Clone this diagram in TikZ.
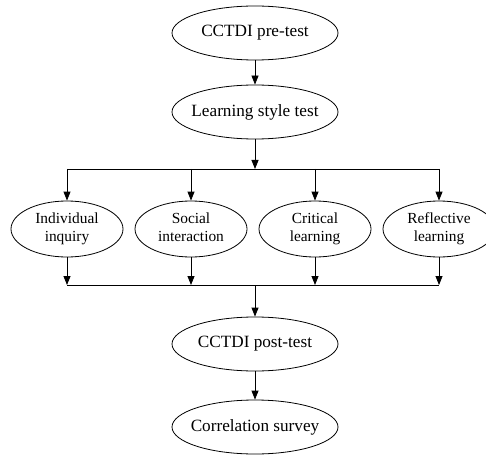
\documentclass[tikz,border=0pt]{standalone}
\usepackage{fontspec}
\setmainfont{Liberation Serif}
\usetikzlibrary{shapes.geometric,arrows.meta}
\begin{document}
\begin{tikzpicture}[x=1pt,y=-1pt,
  line width=0.8pt,
  big/.style={ellipse,draw,inner sep=0pt,minimum width=166pt,minimum height=54pt,font=\fontsize{17.2}{20}\selectfont},
  small/.style={ellipse,draw,inner sep=0pt,minimum width=112pt,minimum height=56pt,font=\fontsize{15.4}{18}\selectfont},
  arr/.style={-{Triangle[length=9pt,width=7pt]}},
  bus/.style={-}]
\useasboundingbox (0,0) rectangle (486,454);
\node[big] (pre) at (255,33) {\makebox[0pt]{CCTDI pre-test}};
\node[big] (style) at (255,112) {\makebox[0pt]{Learning style test}};
\node[small] (ind) at (67,229) {\makebox[0pt]{\begin{tabular}{@{}c@{}}Individual\\inquiry\end{tabular}}};
\node[small] (soc) at (191,229) {\makebox[0pt]{\begin{tabular}{@{}c@{}}Social\\interaction\end{tabular}}};
\node[small] (cri) at (315,229) {\makebox[0pt]{\begin{tabular}{@{}c@{}}Critical\\learning\end{tabular}}};
\node[small] (ref) at (439,229) {\makebox[0pt]{\begin{tabular}{@{}c@{}}Reflective\\learning\end{tabular}}};
\node[big] (post) at (255,344) {\makebox[0pt]{CCTDI post-test}};
\node[big] (corr) at (255,427) {\makebox[0pt]{Correlation survey}};
% top bus
\coordinate (t0) at (255,169);
\coordinate (t1) at (67,169);
\coordinate (t2) at (191,169);
\coordinate (t3) at (315,169);
\coordinate (t4) at (439,169);
% bottom bus
\coordinate (u0) at (255,285);
\coordinate (u1) at (67,285);
\coordinate (u2) at (191,285);
\coordinate (u3) at (315,285);
\coordinate (u4) at (439,285);
\draw[arr] (pre) -- (style);
\draw[arr] (style) -- (t0);
\draw[bus] (t1) -- (t4);
\draw[arr] (t1) -- (ind);
\draw[arr] (t2) -- (soc);
\draw[arr] (t3) -- (cri);
\draw[arr] (t4) -- (ref);
\draw[arr] (ind) -- (u1);
\draw[arr] (soc) -- (u2);
\draw[arr] (cri) -- (u3);
\draw[arr] (ref) -- (u4);
\draw[bus] (u1) -- (u4);
\draw[arr] (u0) -- (post);
\draw[arr] (post) -- (corr);
\end{tikzpicture}
\end{document}
